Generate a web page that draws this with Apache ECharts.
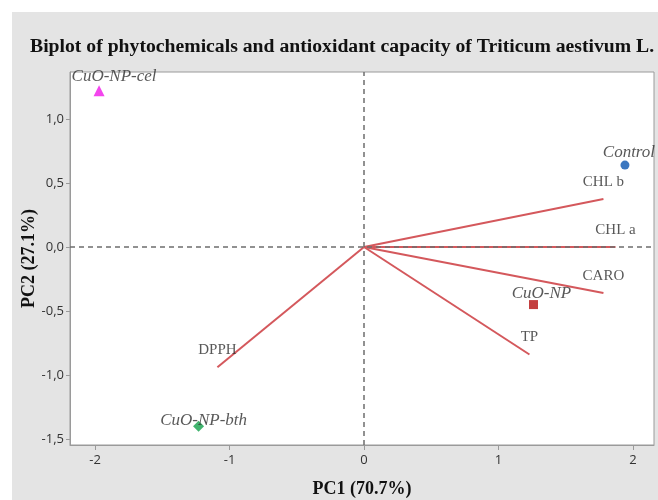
<!DOCTYPE html>
<html>
<head>
<meta charset="utf-8">
<script src="https://cdn.jsdelivr.net/npm/echarts@6/dist/echarts.min.js"></script>
<style>
  html, body { margin: 0; padding: 0; background: #ffffff; }
  #chart { width: 658px; height: 500px; }
</style>
</head>
<body>
<div id="chart"></div>
<script>
// Sample scores on the first two principal components
const sampleNames = ['CuO-NP-cel', 'Control', 'CuO-NP', 'CuO-NP-bth'];
const samplePC1 = [-1.97, 1.94, 1.26, -1.23];
const samplePC2 = [1.22, 0.64, -0.45, -1.40];

// Variable loadings (vector end points)
const variableNames = ['CHL b', 'CHL a', 'CARO', 'TP', 'DPPH'];
const loadingPC1 = [1.78, 1.87, 1.78, 1.23, -1.09];
const loadingPC2 = [0.375, 0.0, -0.36, -0.84, -0.94];

// Axis tick values
const xTicks = [-2, -1, 0, 1, 2];
const yTicks = [-1.5, -1.0, -0.5, 0.0, 0.5, 1.0];

const sampleStyle = [
  { symbol: 'triangle', size: 11, color: '#f016e8', offset: [15, -14] },
  { symbol: 'circle', size: 9, color: '#0a55b0', offset: [4, -13] },
  { symbol: 'rect', size: 9, color: '#b40f0f', offset: [8, -11] },
  { symbol: 'diamond', size: 11, color: '#12a04a', offset: [5, -6] }
];

const serif = '"Liberation Serif", "Times New Roman", serif';
const vecColor = '#d4585c';

const series = [];

// Loading vectors drawn from the origin
variableNames.forEach((name, i) => {
  series.push({
    type: 'line',
    name: name,
    silent: true,
    symbol: 'none',
    z: 2,
    lineStyle: { color: vecColor, width: 2 },
    data: [[0, 0], [loadingPC1[i], loadingPC2[i]]]
  });
});

// Variable names placed just above each vector tip
series.push({
  type: 'scatter',
  name: 'variable-labels',
  silent: true,
  z: 2,
  symbol: 'circle',
  symbolSize: 1,
  itemStyle: { color: 'rgba(0,0,0,0)' },
  label: {
    show: true,
    position: 'top',
    distance: 9,
    formatter: p => variableNames[p.dataIndex],
    fontFamily: serif,
    fontSize: 15,
    color: '#2e2e2e'
  },
  data: variableNames.map((n, i) => [loadingPC1[i], loadingPC2[i]])
});

// Reference lines through the origin
series.push({
  type: 'line',
  data: [],
  z: 3,
  markLine: {
    silent: true,
    symbol: 'none',
    label: { show: false },
    lineStyle: { color: '#6e6e6e', type: [5, 4], width: 1.5 },
    data: [{ xAxis: 0 }, { yAxis: 0 }]
  }
});

// Sample points
sampleNames.forEach((name, i) => {
  const st = sampleStyle[i];
  series.push({
    type: 'scatter',
    name: name,
    z: 4,
    symbol: st.symbol,
    symbolSize: st.size,
    itemStyle: { color: st.color },
    label: {
      show: true,
      position: 'inside',
      offset: st.offset,
      formatter: name,
      fontFamily: serif,
      fontStyle: 'italic',
      fontSize: 17,
      color: '#2e2e2e'
    },
    data: [[samplePC1[i], samplePC2[i]]]
  });
});

const fmt = v => Number(v).toFixed(1).replace('.', ',');

const chart = echarts.init(document.getElementById('chart'), null, { renderer: 'canvas' });
chart.setOption({
  animation: false,
  backgroundColor: '#ffffff',
  graphic: [
    {
      type: 'rect',
      z: -10,
      silent: true,
      shape: { x: 12, y: 12, width: 646, height: 488 },
      style: { fill: '#e4e4e4' }
    }
  ],
  title: {
    text: 'Biplot of phytochemicals and antioxidant capacity of Triticum aestivum L.',
    left: 25,
    top: 32,
    textStyle: {
      fontFamily: serif,
      fontWeight: 'bold',
      fontSize: 19.7,
      color: '#111111'
    }
  },
  grid: {
    left: 70,
    right: 4,
    top: 72,
    bottom: 55,
    outerBoundsMode: 'none',
    containLabel: false,
    show: true,
    backgroundColor: '#ffffff',
    borderColor: '#9a9a9a',
    borderWidth: 1
  },
  xAxis: {
    type: 'value',
    min: -2.186,
    max: 2.156,
    name: 'PC1 (70.7%)',
    nameLocation: 'middle',
    nameGap: 35,
    nameMoveOverlap: false,
    nameTextStyle: { fontFamily: serif, fontWeight: 'bold', fontSize: 18, color: '#111' },
    splitLine: { show: false },
    axisLine: { show: true, onZero: false, lineStyle: { color: '#9a9a9a' } },
    axisTick: { show: true, customValues: xTicks, length: 5, lineStyle: { color: '#9a9a9a' } },
    axisLabel: {
      customValues: xTicks,
      formatter: v => String(v),
      fontFamily: '"Open Sans", sans-serif',
      fontSize: 13,
      color: '#333333',
      margin: 9
    }
  },
  yAxis: {
    type: 'value',
    min: -1.547,
    max: 1.367,
    name: 'PC2 (27.1%)',
    nameLocation: 'middle',
    nameGap: 32,
    nameMoveOverlap: false,
    nameTextStyle: { fontFamily: serif, fontWeight: 'bold', fontSize: 18, color: '#111' },
    splitLine: { show: false },
    axisLine: { show: true, onZero: false, lineStyle: { color: '#9a9a9a' } },
    axisTick: { show: true, customValues: yTicks, length: 4, lineStyle: { color: '#9a9a9a' } },
    axisLabel: {
      customValues: yTicks,
      formatter: fmt,
      fontFamily: '"Open Sans", sans-serif',
      fontSize: 13,
      color: '#333333',
      margin: 6
    }
  },
  series: series
});
</script>
</body>
</html>
